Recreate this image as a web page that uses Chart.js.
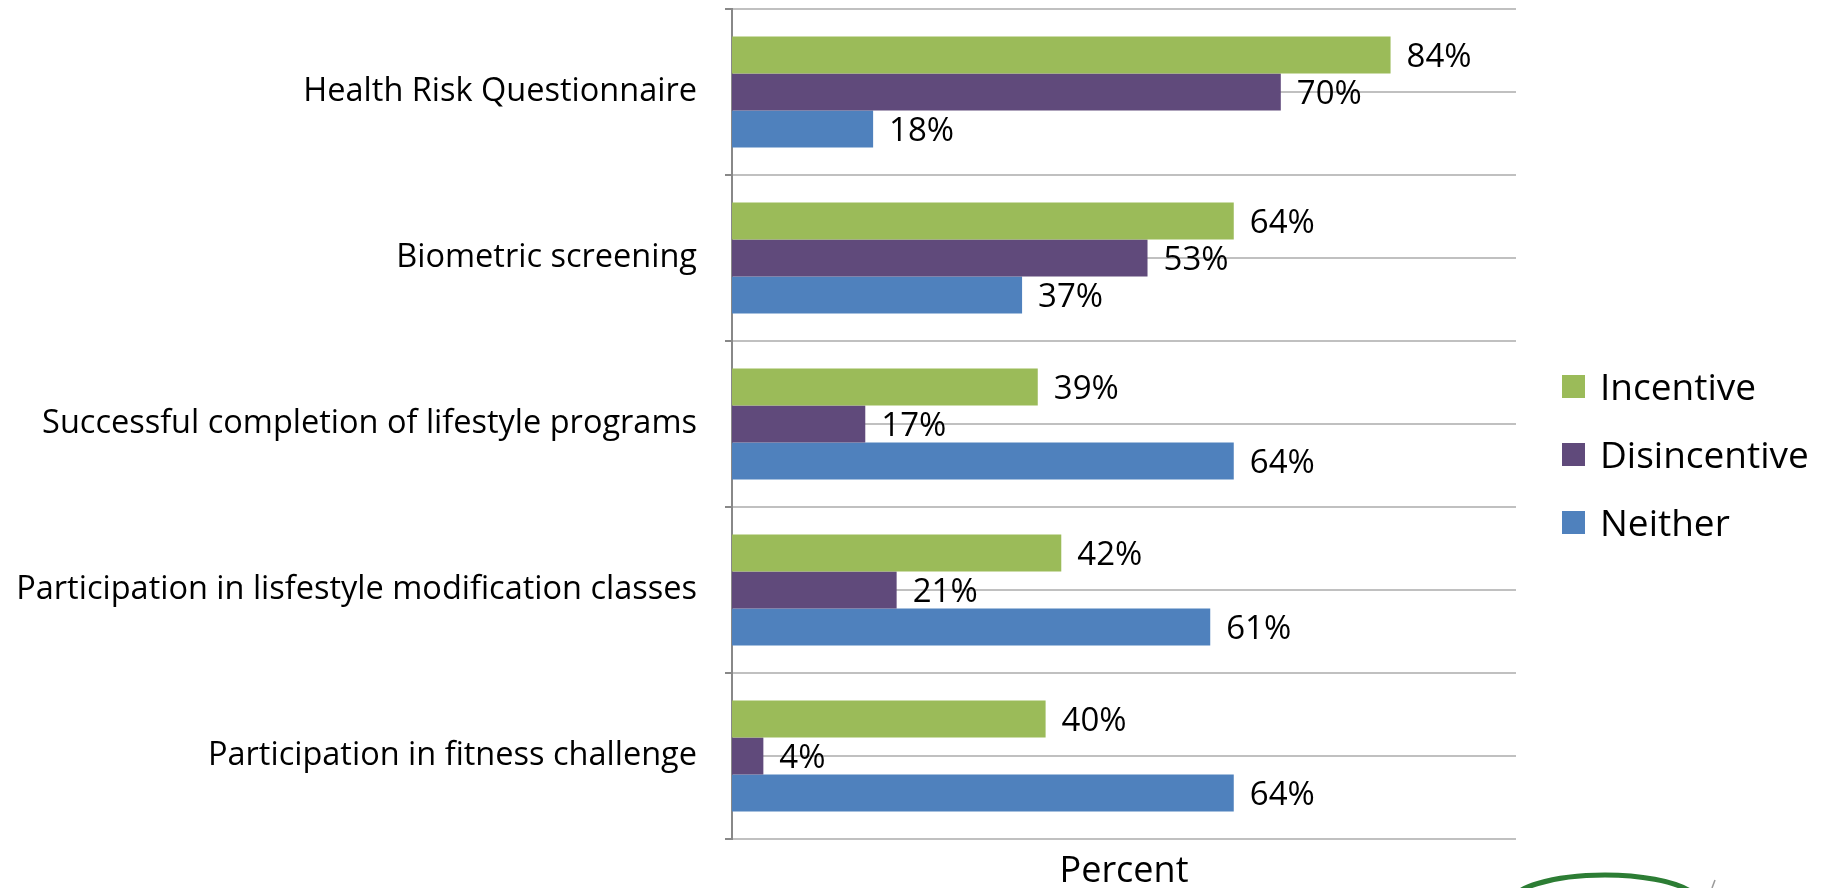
<!DOCTYPE html>
<html>
<head>
<meta charset="utf-8">
<script src="https://cdn.jsdelivr.net/npm/chart.js@4"></script>
<style>
    html, body { margin: 0; padding: 0; background: #fff; }
    #wrap { width: 1828px; height: 888px; }
</style>
</head>
<body>
<div id="wrap"><canvas id="wellness-chart" width="1828" height="888"></canvas></div>
<script>
const categories = [
    'Health Risk Questionnaire',
    'Biometric screening',
    'Successful completion of lifestyle programs',
    'Participation in lisfestyle modification classes',
    'Participation in fitness challenge'
];
const seriesNames = ['Incentive', 'Disincentive', 'Neither'];
const incentive = [84, 64, 39, 42, 40];
const disincentive = [70, 53, 17, 21, 4];
const neither = [18, 37, 64, 61, 64];
const seriesColors = ['#9BBB59', '#604A7B', '#4F81BD'];
const axisTitle = 'Percent';

const FONT = '"Open Sans"';

// percent labels at the end of each bar
const barLabels = {
    id: 'barLabels',
    afterDatasetsDraw(chart) {
        const ctx = chart.ctx;
        ctx.save();
        ctx.font = '33px ' + FONT;
        ctx.fillStyle = '#000';
        ctx.textBaseline = 'middle';
        ctx.textAlign = 'left';
        chart.data.datasets.forEach((ds, i) => {
            chart.getDatasetMeta(i).data.forEach((bar, j) => {
                ctx.fillText(ds.data[j] + '%', bar.x + 16, bar.y + 3);
            });
        });
        ctx.restore();
    }
};

// legend on the right, drawn from the datasets
const sideLegend = {
    id: 'sideLegend',
    afterDraw(chart) {
        const ctx = chart.ctx;
        ctx.save();
        ctx.font = '37px ' + FONT;
        ctx.textBaseline = 'middle';
        chart.data.datasets.forEach((ds, i) => {
            const cy = 386 + i * 68;
            ctx.fillStyle = ds.backgroundColor;
            ctx.fillRect(1562, cy - 11, 23, 23);
            ctx.fillStyle = '#000';
            ctx.fillText(ds.label, 1600, cy + 3);
        });
        // bit of the logo peeking in at the bottom corner
        ctx.strokeStyle = '#2C7D34';
        ctx.lineWidth = 5;
        ctx.beginPath();
        ctx.ellipse(1605, 904, 95, 29, 0, Math.PI * 1.0, Math.PI * 1.85);
        ctx.stroke();
        ctx.strokeStyle = '#9a9a9a';
        ctx.lineWidth = 1.5;
        ctx.beginPath();
        ctx.moveTo(1715, 880);
        ctx.lineTo(1712, 888);
        ctx.stroke();
        ctx.restore();
    }
};

document.addEventListener('DOMContentLoaded', () => {
    const ctx = document.getElementById('wellness-chart').getContext('2d');
    new Chart(ctx, {
        type: 'bar',
        data: {
            labels: categories,
            datasets: [
                { label: seriesNames[0], data: incentive, backgroundColor: seriesColors[0] },
                { label: seriesNames[1], data: disincentive, backgroundColor: seriesColors[1] },
                { label: seriesNames[2], data: neither, backgroundColor: seriesColors[2] }
            ]
        },
        options: {
            indexAxis: 'y',
            responsive: false,
            animation: false,
            categoryPercentage: 0.67,
            barPercentage: 1.0,
            layout: { padding: { top: 9, right: 312, left: 0, bottom: 0 } },
            plugins: {
                legend: { display: false },
                tooltip: { enabled: false }
            },
            scales: {
                x: {
                    min: 0,
                    max: 100,
                    ticks: { display: false },
                    grid: { display: false },
                    border: { display: false },
                    title: {
                        display: true,
                        text: axisTitle,
                        color: '#000',
                        font: { family: FONT, size: 36, lineHeight: 1 },
                        padding: { top: 0, bottom: -2 }
                    },
                    afterFit(scale) { scale.height = 49; }
                },
                y: {
                    offset: true,
                    ticks: {
                        color: '#000',
                        font: { family: FONT, size: 32.5 },
                        padding: 28
                    },
                    grid: {
                        offset: true,
                        color: '#C0C0C0',
                        lineWidth: 2,
                        tickLength: 7,
                        tickColor: '#888'
                    },
                    border: { color: '#888', width: 2 },
                    afterFit(scale) {
                        scale.width = 732;
                        scale.paddingTop = 0;
                        scale.paddingBottom = 0;
                    }
                },
                y2: {
                    type: 'category',
                    labels: categories,
                    position: 'left',
                    offset: true,
                    ticks: { display: false },
                    grid: { offset: false, color: '#C0C0C0', lineWidth: 2, drawTicks: false },
                    border: { display: false },
                    afterFit(scale) {
                        scale.width = 0;
                        scale.paddingTop = 0;
                        scale.paddingBottom = 0;
                    }
                }
            }
        },
        plugins: [barLabels, sideLegend]
    });
});
</script>
</body>
</html>
